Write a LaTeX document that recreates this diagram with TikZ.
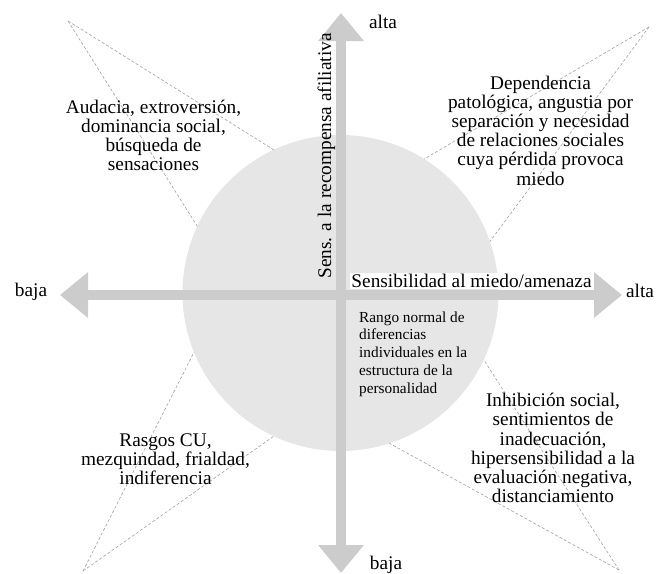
\documentclass[tikz,border=0pt]{standalone}
\usepackage{fontspec}
\setmainfont{Liberation Serif}
\usetikzlibrary{arrows.meta}
\definecolor{axisgray}{HTML}{CCCCCC}
\definecolor{circgray}{HTML}{E6E6E6}
\definecolor{dashgray}{HTML}{A0A0A0}
\begin{document}
\begin{tikzpicture}[x=1pt,y=-1pt,
  big/.style={font=\fontsize{19.3pt}{19.2pt}\selectfont, inner sep=0pt, align=center},
  small/.style={font=\fontsize{15.3pt}{17.7pt}\selectfont, inner sep=0pt, align=left},
  guide/.style={draw=dashgray, line width=0.6pt, dash pattern=on 3pt off 2pt},
  axis/.style={draw=axisgray, line width=10.5pt, {Triangle[width=44pt,length=28pt]}-{Triangle[width=44pt,length=28pt]}}]
\useasboundingbox (0,0) rectangle (664,573);

% normal range circle
\node[circle, fill=circgray, minimum size=316pt, inner sep=0pt, outer sep=0pt] (C) at (340.5,293) {};

% apex points of the dashed guides
\coordinate (tl) at (68,21);
\coordinate (tr) at (649,27);
\coordinate (bl) at (83,571);
\coordinate (br) at (619,570);

\draw[guide] (tl) -- (C.115.7);
\draw[guide] (tl) -- (C.155.5);
\draw[guide] (tr) -- (C.58.6);
\draw[guide] (tr) -- (C.19.8);
\draw[guide] (bl) -- (C.202.5);
\draw[guide] (bl) -- (C.245.7);
\draw[guide] (br) -- (C.-25.3);
\draw[guide] (br) -- (C.-72.8);

% axes
\coordinate (hl) at (60,295);
\coordinate (hr) at (622,295);
\coordinate (vt) at (341,13);
\coordinate (vb) at (341,573);
\draw[axis] (hl) -- (hr);
\draw[axis] (vb) -- (vt);

% quadrant texts
\node[big] (tltext) at (153.5,135.4) {Audacia, extroversión,\\dominancia social,\\búsqueda de\\sensaciones};
\node[big] (trtext) at (540.5,130.4) {Dependencia\\patológica, angustia por\\separación y necesidad\\de relaciones sociales\\cuya pérdida provoca\\miedo};
\node[big] (bltext) at (165.5,459) {Rasgos CU,\\mezquindad, frialdad,\\indiferencia};
\node[big] (brtext) at (553,448) {Inhibición social,\\sentimientos de\\inadecuación,\\hipersensibilidad a la\\evaluación negativa,\\distanciamiento};
\node[small, anchor=west] (rango) at (359,354) {Rango normal de\\diferencias\\individuales en la\\estructura de la\\personalidad};

% axis labels
\node[big, anchor=base] (altaT) at (383,28) {alta};
\node[big, anchor=base] (bajaL) at (31,296) {baja};
\node[big, anchor=base] (altaR) at (640,297) {alta};
\node[big, anchor=base] (bajaB) at (386,569) {baja};
\node[big, anchor=base, rotate=90] (ylab) at (331,156) {Sens. a la recompensa afiliativa};
\node[big, anchor=base, fill=white, inner sep=1.5pt] (xlab) at (471.5,287.5) {Sensibilidad al miedo/amenaza};
\end{tikzpicture}
\end{document}
